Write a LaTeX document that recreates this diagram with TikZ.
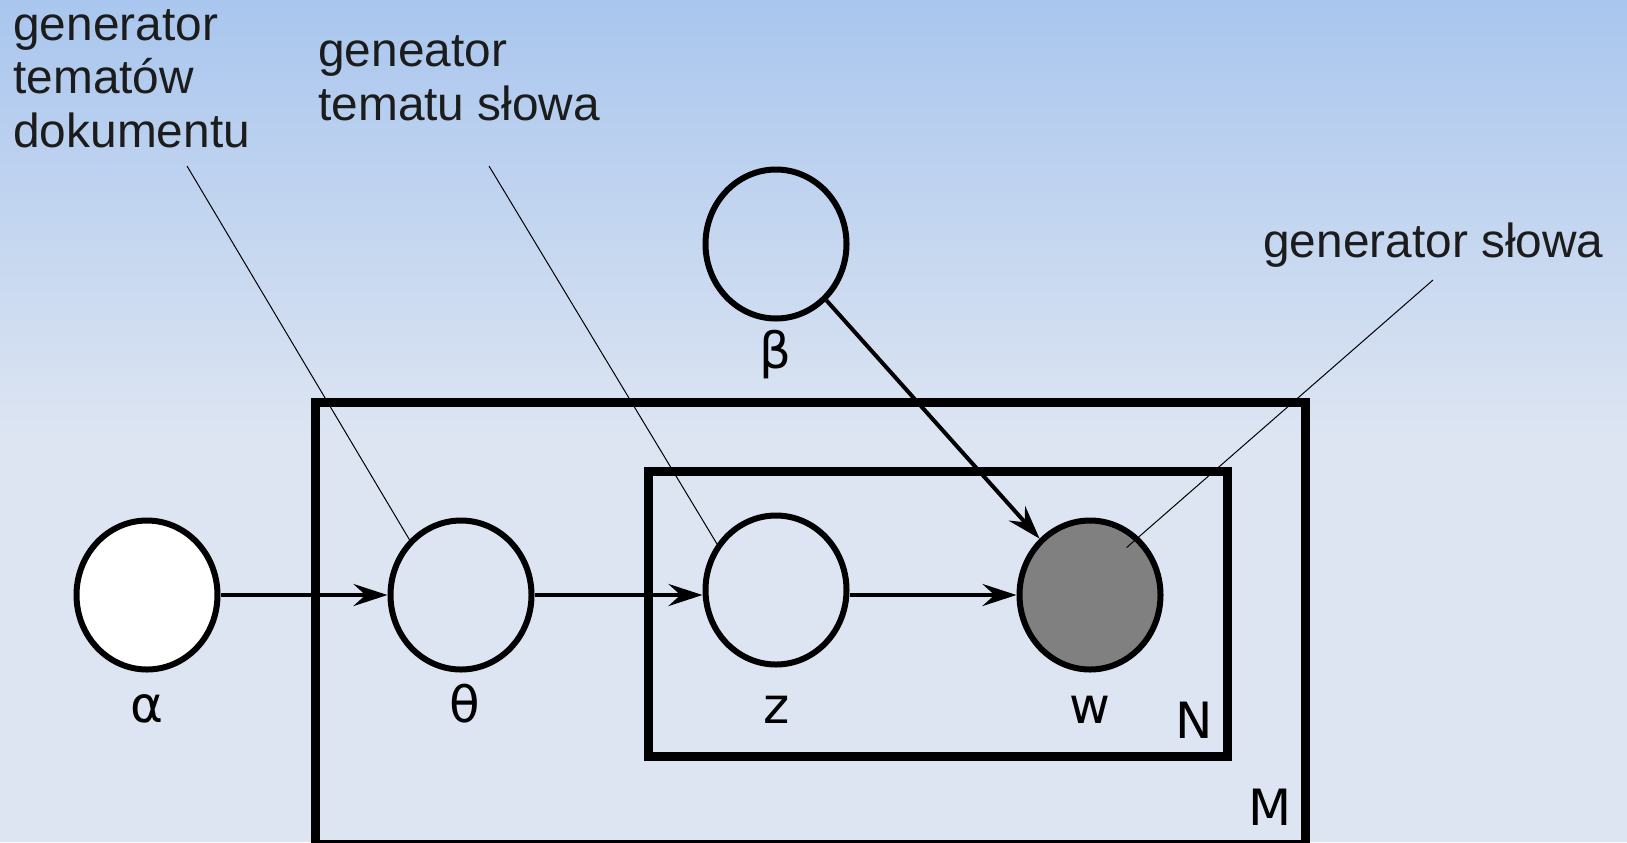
\documentclass[tikz,border=0pt]{standalone}
\usepackage{fontspec}
\setmainfont{Liberation Sans}
\newfontfamily\symfont{DejaVu Sans}
\usetikzlibrary{arrows.meta,shapes.geometric}
\definecolor{bgtop}{HTML}{A9C6EE}
\definecolor{bgbot}{HTML}{DDE5F2}
\definecolor{ink}{HTML}{1C1C1C}
\definecolor{observed}{HTML}{808080}

\tikzset{
  var/.style={ellipse, draw=black, line width=3pt, minimum width=70.5pt, minimum height=74.5pt, inner sep=0pt},
  obs/.style={var, fill=observed},
  plate/.style={draw=black, line width=4.5pt},
  edge/.style={-{Stealth[length=17pt,width=11pt,inset=6pt]}, line width=2pt},
  callout/.style={line width=0.5pt},
  sym/.style={anchor=base, inner sep=0pt, font=\symfont\fontsize{25}{30}\selectfont},
  note/.style={anchor=base west, align=left, inner sep=0pt, text=ink, font=\fontsize{23.9}{26.75}\selectfont},
}

\begin{document}
\begin{tikzpicture}[x=0.5pt,y=-0.5pt]
  \useasboundingbox (0,0) rectangle (1627,842);
  \clip (0,0) rectangle (1627,842);

  % background
  \fill[bgbot] (0,0) rectangle (1627,842);
  \shade[top color=bgtop, bottom color=bgbot] (0,0) rectangle (1627,440);

  % plates
  \draw[plate] (315,402) rectangle (1305,844);
  \draw[plate] (648,471) rectangle (1227,756);
  \node[sym] (M) at (1270,825) {M};
  \node[sym] (N) at (1194,738) {N};

  % variables
  \node[var, fill=white] (alpha) at (147,595) {};
  \node[var] (theta) at (461,595) {};
  \node[var] (z) at (776,590) {};
  \node[obs] (w) at (1090,595) {};
  \node[var] (beta) at (776,244) {};

  \node[sym] (alphalbl) at (147,722) {α};
  \node[sym] (thetalbl) at (465,722) {θ};
  \node[sym] (zlbl) at (777,723) {z};
  \node[sym] (wlbl) at (1090,723) {w};
  \node[sym] (betalbl) at (775,368) {β};

  % edges
  \draw[edge] (alpha) -- (theta);
  \draw[edge] (theta) -- (theta -| z.west);
  \draw[edge] (z.east |- w) -- (w);
  \draw[edge] (beta) -- (w);

  % callouts
  \node[note] (docgen) at (13,147) {generator\\tematów\\dokumentu};
  \node[note] (topicgen) at (318,120) {geneator\\tematu słowa};
  \node[note] (wordgen) at (1263,257) {generator słowa};
  \coordinate (docgenend) at (187,166);
  \coordinate (topicgenend) at (489,166);
  \coordinate (wordgenend) at (1433,280);
  \draw[callout] (docgenend) -- (theta.133);
  \draw[callout] (topicgenend) -- (z.142);
  \draw[callout, shorten >=-8pt] (wordgenend) -- (w.50);
\end{tikzpicture}
\end{document}
